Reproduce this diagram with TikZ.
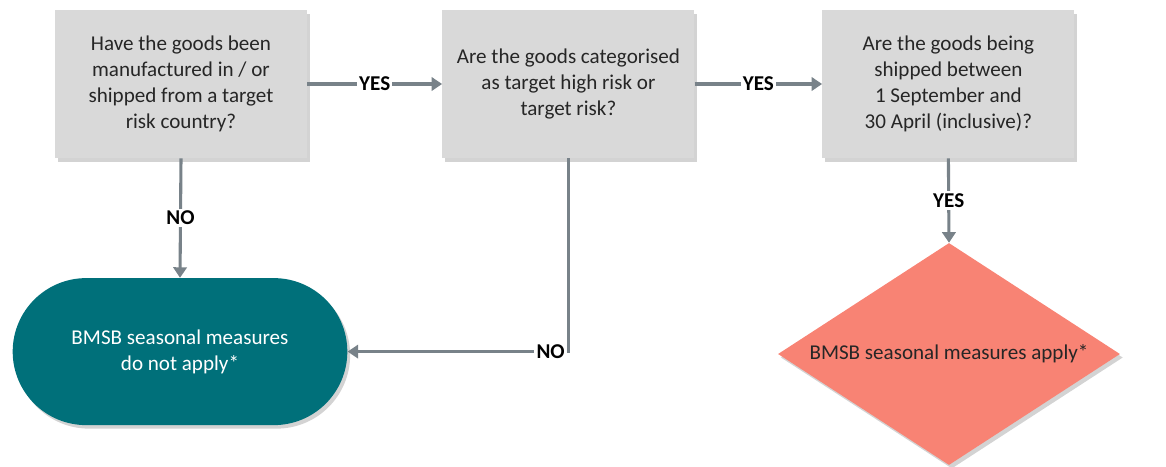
\documentclass[tikz,border=0pt]{standalone}
\usepackage{fontspec}
\setmainfont{Carlito}
\usetikzlibrary{shapes.geometric,shapes.misc,shadows,arrows.meta}
\definecolor{boxgray}{RGB}{217,217,217}
\definecolor{flowgray}{RGB}{120,130,137}
\definecolor{teal}{RGB}{0,112,122}
\definecolor{salmon}{RGB}{248,131,116}
\definecolor{textdark}{RGB}{38,38,38}
\tikzset{question/.style={rectangle,fill=boxgray,minimum width=6.3cm,minimum height=3.7cm,align=center,text=textdark,
                          font=\fontsize{15}{18.5}\selectfont,drop shadow={shadow xshift=2pt,shadow yshift=-2.5pt,opacity=0.35}},
         flow/.style={draw=flowgray,line width=2.2pt,-{Triangle[width=9.5pt,length=7.5pt]}},
         answer/.style={fill=white,inner sep=1.5pt,text=black,font=\fontsize{15}{18}\selectfont\bfseries}}

\begin{document}
\begin{tikzpicture}
    \useasboundingbox (0,0) rectangle (29.15,-11.65);
    \node[question] (origin) at (4.525,-2.1) {Have the goods been\\manufactured in / or\\shipped from a target\\risk country?};
    \node[question] (category) at (14.21,-2.1) {Are the goods categorised\\as target high risk or\\target risk?};
    \node[question] (season) at (23.71,-2.1) {Are the goods being\\shipped between\\1 September and\\30 April (inclusive)?};
    \node[rounded rectangle,fill=teal,minimum width=8.6cm,minimum height=3.675cm,align=center,text=white,
          font=\fontsize{15}{18.5}\selectfont,drop shadow={shadow xshift=2pt,shadow yshift=-2.5pt,opacity=0.35}]
          (notapply) at (4.5,-8.79) {BMSB seasonal measures\\do not apply*};
    \node[diamond,aspect=1.54,fill=salmon,minimum width=8.55cm,minimum height=5.55cm,inner sep=0pt,text=textdark,
          font=\fontsize{15}{18.5}\selectfont,drop shadow={shadow xshift=2pt,shadow yshift=-2.5pt,opacity=0.35}]
          (apply) at (23.725,-8.85) {BMSB seasonal measures apply*};
    \draw[flow] (origin.east) -- node[answer]{YES} (category.west);
    \draw[flow] (category.east) -- node[answer]{YES} (season.west);
    \draw[flow] (origin.south) -- node[answer]{NO} (notapply.north);
    \draw[flow] (season.south) -- node[answer]{YES} (apply.north);
    \draw[flow] (category.south) |- node[answer,pos=0.5,anchor=east]{NO} (notapply.east);
\end{tikzpicture}
\end{document}
